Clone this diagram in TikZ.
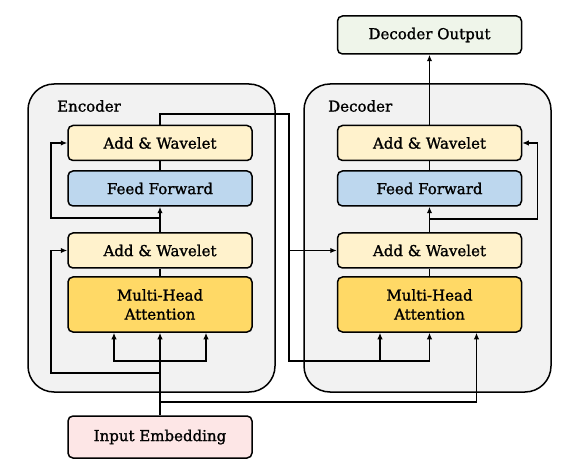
\documentclass[tikz,border=0pt]{standalone}
\usepackage{fontspec}
\setmainfont{DejaVu Serif}
\newfontfamily\boxfont{DejaVu Serif}[FakeBold=1.3]
\usepackage{tikz}
\usetikzlibrary{arrows.meta,positioning}

\definecolor{wavefill}{HTML}{FFF2CC}
\definecolor{fffill}{HTML}{BDD7EE}
\definecolor{attfill}{HTML}{FFD966}
\definecolor{outfill}{HTML}{EFF5EA}
\definecolor{embfill}{HTML}{FDE6E6}
\definecolor{panelfill}{HTML}{F2F2F2}

\begin{document}
\begin{tikzpicture}[
    x=1pt, y=-1pt,
    panel/.style={draw, line width=1.5pt, rounded corners=26pt, fill=panelfill, minimum width=247pt, minimum height=308pt},
    block/.style={draw, line width=1.5pt, rounded corners=5pt, align=center, minimum width=184pt, minimum height=35pt, font=\boxfont\fontsize{15}{19}\selectfont},
    wavelet/.style={block, fill=wavefill},
    ffwd/.style={block, fill=fffill},
    attn/.style={block, fill=attfill, minimum height=55pt},
    title/.style={anchor=west, inner sep=0pt, font=\boxfont\fontsize{15}{19}\selectfont},
    arrow/.style={-{Latex[length=6.5pt,width=5.5pt]}, line width=1.6pt},
    link/.style={line width=1.6pt}
]
\useasboundingbox (0,0) rectangle (570,470);

% panels
\node[panel] (encpanel) at (151.5,238) {};
\node[panel] (decpanel) at (427.5,238) {};
\node[title] (enctitle) at (57,106) {Encoder};
\node[title] (dectitle) at (328,106) {Decoder};

% encoder blocks
\node[attn] (emha) at (160,304.5) {Multi-Head\\Attention};
\node[wavelet] (eaw1) at (160,250.5) {Add \& Wavelet};
\node[ffwd] (eff) at (160,188.5) {Feed Forward};
\node[wavelet] (eaw2) at (160,143) {Add \& Wavelet};

% decoder blocks
\node[attn] (dmha) at (429.5,304.5) {Multi-Head\\Attention};
\node[wavelet] (daw1) at (429.5,250.5) {Add \& Wavelet};
\node[ffwd] (dff) at (429.5,188.5) {Feed Forward};
\node[wavelet] (daw2) at (429.5,143) {Add \& Wavelet};

% input and output
\node[block, fill=embfill, minimum height=42pt] (inemb) at (160,437) {Input Embedding};
\node[block, fill=outfill, minimum height=38pt] (dout) at (429.5,35) {Decoder Output};

\coordinate (esplit) at (160,361);
\coordinate (eres1) at (160,373);
\coordinate (eres2) at (160,218);
\coordinate (dsplit) at (160,402);
\coordinate (ctop) at (289,114);
\coordinate (cbot) at (289,361);
\coordinate (cmid) at (289,250.5);
\coordinate (dres) at (429.5,219);

% encoder paths
\draw[arrow] (inemb.north) -- (emha.south);
\draw[arrow] (esplit) -| ([xshift=-46pt]emha.south);
\draw[arrow] (esplit) -| ([xshift=46pt]emha.south);
\draw[arrow] (eres1) -- ++(-109,0) |- (eaw1.west);
\draw[link] (emha.north) -- (eaw1.south);
\draw[arrow] (eaw1.north) -- (eff.south);
\draw[arrow] (eres2) -- ++(-109,0) |- (eaw2.west);
\draw[link] (eff.north) -- (eaw2.south);

% encoder to decoder
\draw[arrow] (eaw2.north) |- (ctop) -- (cbot) -| (dmha.south);
\draw[arrow] ([xshift=-49.5pt]dmha.south |- cbot) -- ([xshift=-49.5pt]dmha.south);
\draw[arrow] (cmid) -- (daw1.west);
\draw[arrow] (dsplit) -| ([xshift=47pt]dmha.south);

% decoder paths
\draw[link] (dmha.north) -- (daw1.south);
\draw[arrow] (daw1.north) -- (dff.south);
\draw[arrow] (dres) -- ++(108,0) |- (daw2.east);
\draw[link] (dff.north) -- (daw2.south);
\draw[arrow] (daw2.north) -- (dout.south);
\end{tikzpicture}
\end{document}
